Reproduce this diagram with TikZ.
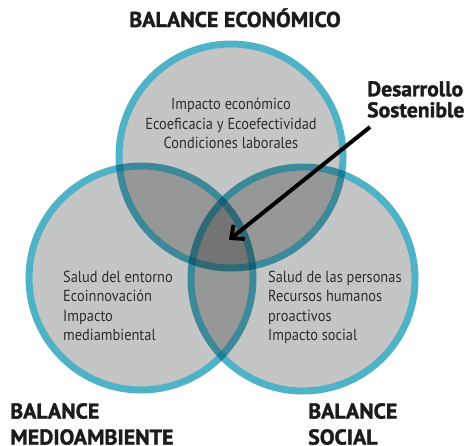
\documentclass[tikz,border=0pt]{standalone}
\usepackage{fontspec}
\setmainfont{PT Sans}
\newfontfamily\bodyfont{PT Sans}[FakeStretch=0.9]
\newfontfamily\headfont{PT Sans}[FakeStretch=1.02,FakeBold=1.6]
\usetikzlibrary{arrows.meta}

\definecolor{ringblue}{HTML}{4FB3C7}
\definecolor{discgray}{HTML}{C4C5C5}
\definecolor{bodytext}{HTML}{2E2E2E}
\definecolor{headtext}{HTML}{1C1C1C}

\tikzset{
  disc/.style={fill=discgray},
  ring/.style={draw=ringblue, line width=7pt},
  body/.style={font=\bodyfont\fontsize{16}{19.3}\selectfont, text=bodytext, inner sep=0pt},
  head/.style={font=\headfont\bfseries\fontsize{21.5}{26}\selectfont, text=headtext, inner sep=0pt},
  pointer/.style={-{Straight Barb[length=10pt,width=18pt]}, line width=4pt, black}
}

\begin{document}
\begin{tikzpicture}[x=1pt,y=-1pt]
  \useasboundingbox (0,0) rectangle (470,445);
  % circle centres
  \coordinate (eco) at (231,156);
  \coordinate (med) at (141,278);
  \coordinate (soc) at (303,279);
  % discs and rings, darker where they overlap
  \begin{scope}[blend group=multiply]
    \foreach \c in {eco,med,soc}{
      \fill[disc] (\c) circle[radius=108.5pt];
      \draw[ring] (\c) circle[radius=112pt];
    }
  \end{scope}

  % Economic
  \node[head, anchor=base] (ecotitle) at (235,27) {BALANCE ECONÓMICO};
  \node[body, align=center, anchor=north] (ecotext) at (231,98) {Impacto económico\\Ecoeficacia y Ecoefectividad\\Condiciones laborales};
  % Environment
  \node[body, align=left, anchor=north west] (medtext) at (63,271) {Salud del entorno\\Ecoinnovación\\Impacto\\mediambiental};
  \node[head, align=left, anchor=north west] (medtitle) at (10,403) {BALANCE\\MEDIOAMBIENTE};
  % Social
  \node[body, align=left, anchor=north west] (soctext) at (268,271) {Salud de las personas\\Recursos humanos\\proactivos\\Impacto social};
  \node[head, align=left, anchor=north west] (soctitle) at (308,403) {BALANCE\\SOCIAL};

  % Sustainable development
  \node[head, font=\headfont\bfseries\fontsize{21.2}{21}\selectfont, align=left, anchor=north west] (desarrollo) at (367,81) {Desarrollo\\Sostenible};
  \coordinate (arrowtail) at (370,127);
  \coordinate (centro) at (229,240);
  \draw[pointer] (arrowtail) -- (centro);
\end{tikzpicture}
\end{document}
